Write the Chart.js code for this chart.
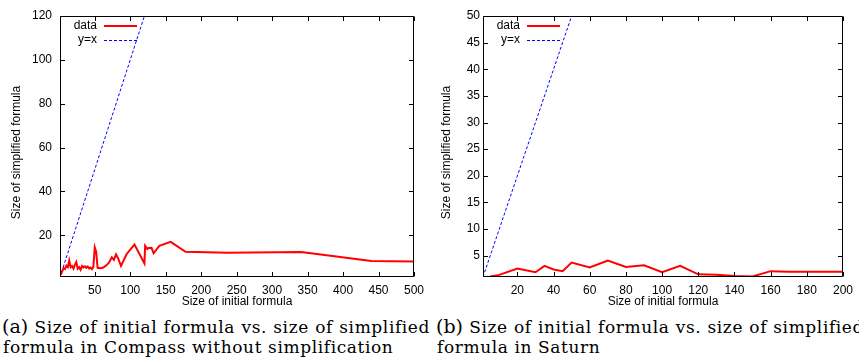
<!DOCTYPE html>
<html><head><meta charset="utf-8">
<script src="https://cdn.jsdelivr.net/npm/chart.js@4/dist/chart.umd.min.js"></script>
<style>
html,body{margin:0;padding:0;background:#fff;width:859px;height:360px;overflow:hidden;position:relative}
canvas{position:absolute;top:0}
.cap{position:absolute;font-family:"DejaVu Serif",serif;font-size:17px;letter-spacing:0.6px;color:#000;white-space:nowrap;line-height:19px}
.l1{width:428px;text-align:justify;text-align-last:justify}
.big{font-size:19px;letter-spacing:0;line-height:0}
</style></head><body>
<canvas id="c1" width="430" height="310" style="left:0"></canvas>
<canvas id="c2" width="429" height="310" style="left:430px"></canvas>
<div class="cap l1" style="left:2px;top:318px"><span class="big">(a)</span> Size of initial formula vs. size of simplified</div>
<div class="cap" style="left:3px;top:338px">formula in Compass without simplification</div>
<div class="cap l1" style="left:436px;top:318px"><span class="big">(b)</span> Size of initial formula vs. size of simplified</div>
<div class="cap" style="left:437px;top:338px">formula in Saturn</div>
<script>
// ---- data ----
const seriesLabels = ['data', 'y=x'];
const xTitle = 'Size of initial formula';
const yTitle = 'Size of simplified formula';

// (a) Compass without simplification
const compassX = [2, 4, 6, 8, 10, 12, 14, 16, 18, 20, 22, 24, 26, 28, 30, 32, 34, 36, 38, 40, 42, 44, 46, 48,
  50, 52, 54, 58, 62, 66, 70, 74, 77, 80, 83, 87, 95, 106, 120, 121, 124, 126, 130, 133, 141, 157, 178, 237, 341, 440, 500];
const compassY = [2, 3.5, 5, 4.6, 6.2, 5.5, 8.5, 5.5, 6, 4.8, 6.5, 7.8, 4.8, 5.5, 4.3, 6, 5.4, 5.9, 5.2, 5.8, 4.9, 5.3, 4.6, 5.5,
  14.5, 12.5, 5.2, 5, 5.3, 6.2, 7.5, 10, 8.8, 11.3, 9.5, 6, 11.5, 15.8, 7.2, 15.2, 13.8, 14.2, 14.3, 11.8, 15.2, 17, 12.5, 12.1, 12.4, 8.3, 8.1];
const compassIdentity = [1, 120];
const compassXTicks = [50, 100, 150, 200, 250, 300, 350, 400, 450, 500];
const compassYTicks = [20, 40, 60, 80, 100, 120];

// (b) Saturn
const saturnX = [5, 10, 20, 30, 35, 40, 45, 50, 60, 70, 80, 90, 100, 110, 120, 130, 140, 150, 160, 170, 180, 190, 200];
const saturnY = [1.1, 1.4, 2.6, 1.9, 3.1, 2.4, 2.1, 3.7, 2.8, 4.1, 2.9, 3.2, 1.9, 3.1, 1.5, 1.4, 1.2, 1.1, 2.1, 2.0, 2.0, 2.0, 2.0];
const saturnIdentity = [1, 50];
const saturnXTicks = [20, 40, 60, 80, 100, 120, 140, 160, 180, 200];
const saturnYTicks = [5, 10, 15, 20, 25, 30, 35, 40, 45, 50];

// ---- drawing ----
const FONT = 'Liberation Sans';

const gnuDecor = {
  id: 'gnuDecor',
  afterDatasetsDraw(chart, args, opts) {
    const {ctx, chartArea: a, scales: {x, y}} = chart;
    const L = Math.round(a.left) + 0.5, R = Math.round(a.right) - 0.5;
    const T = Math.round(a.top) + 0.5, B = Math.round(a.bottom) - 0.5;
    const tl = 4.5;
    ctx.save();
    ctx.strokeStyle = '#000';
    ctx.lineWidth = 1;
    ctx.setLineDash([]);
    ctx.beginPath();
    ctx.rect(L, T, R - L, B - T);
    x.ticks.forEach(t => {
      const px = Math.round(x.getPixelForValue(t.value)) + 0.5;
      ctx.moveTo(px, B); ctx.lineTo(px, B - tl);
      ctx.moveTo(px, T); ctx.lineTo(px, T + tl);
    });
    y.ticks.forEach(t => {
      const py = Math.round(y.getPixelForValue(t.value)) + 0.5;
      ctx.moveTo(L, py); ctx.lineTo(L + tl, py);
      ctx.moveTo(R, py); ctx.lineTo(R - tl, py);
    });
    ctx.stroke();
    ctx.font = '12px "' + FONT + '"';
    ctx.fillStyle = '#000';
    // y axis title (gnuplot places it slightly below the centre)
    ctx.save();
    ctx.translate(opts.ytx, (a.top + a.bottom) / 2 + 6);
    ctx.rotate(-Math.PI / 2);
    ctx.textAlign = 'center';
    ctx.textBaseline = 'middle';
    ctx.fillText(yTitle, 0, 0);
    ctx.restore();
    // legend (gnuplot style: right-aligned text, sample line to the right)
    ctx.textAlign = 'right';
    ctx.textBaseline = 'middle';
    chart.data.datasets.forEach((ds, i) => {
      const yy = a.top + 10 + i * 13.5;
      ctx.fillStyle = '#000';
      ctx.fillText(ds.label, a.left + 37, yy);
      ctx.strokeStyle = ds.borderColor;
      ctx.lineWidth = ds.borderWidth;
      ctx.setLineDash(ds.borderDash || []);
      ctx.beginPath();
      const ly = Math.round(yy) + (ds.borderWidth % 2 ? 0.5 : 0);
      ctx.moveTo(a.left + 44, ly);
      ctx.lineTo(a.left + 77, ly);
      ctx.stroke();
    });
    ctx.restore();
  }
};

function makeChart(id, xs, ys, ident, xr, yr, xTicks, yTicks, g) {
  const tickFont = {family: FONT, size: 12};
  return new Chart(document.getElementById(id), {
    type: 'scatter',
    data: {
      datasets: [
        {label: seriesLabels[0], data: xs.map((v, i) => ({x: v, y: ys[i]})), showLine: true,
         borderColor: '#ff0000', borderWidth: 2, pointRadius: 0, tension: 0},
        {label: seriesLabels[1], data: ident.map(v => ({x: v, y: v})), showLine: true,
         borderColor: '#0000ff', borderWidth: 1, borderDash: [3, 2], pointRadius: 0, tension: 0}
      ]
    },
    options: {
      responsive: false, animation: false, devicePixelRatio: 1,
      layout: {padding: {top: g.top, right: g.right, left: 0, bottom: 0}},
      plugins: {legend: {display: false}, tooltip: {enabled: false}, gnuDecor: {ytx: g.ytx}},
      scales: {
        x: {
          type: 'linear', min: xr[0], max: xr[1],
          grid: {display: false, drawTicks: false}, border: {display: false},
          afterBuildTicks: s => { s.ticks = xTicks.map(v => ({value: v})); },
          afterFit: s => { s.height = g.xh; },
          ticks: {padding: 6, color: '#000', font: tickFont, autoSkip: false, maxRotation: 0},
          title: {display: true, text: xTitle, color: '#000', font: tickFont, padding: {top: 0, bottom: 1}}
        },
        y: {
          type: 'linear', min: yr[0], max: yr[1],
          grid: {display: false, drawTicks: false}, border: {display: false},
          afterBuildTicks: s => { s.ticks = yTicks.map(v => ({value: v})); },
          afterFit: s => { s.width = g.yw; },
          ticks: {padding: g.ypad, color: '#000', font: tickFont, autoSkip: false},
          title: {display: false}
        }
      }
    },
    plugins: [gnuDecor]
  });
}

makeChart('c1', compassX, compassY, compassIdentity, [1, 500], [1, 120], compassXTicks, compassYTicks,
  {top: 16, right: 14, xh: 33, yw: 60, ypad: 8, ytx: 17});
makeChart('c2', saturnX, saturnY, saturnIdentity, [1, 200], [1, 50], saturnXTicks, saturnYTicks,
  {top: 16, right: 12, xh: 33, yw: 53, ypad: 3, ytx: 16.5});
</script>
</body></html>
